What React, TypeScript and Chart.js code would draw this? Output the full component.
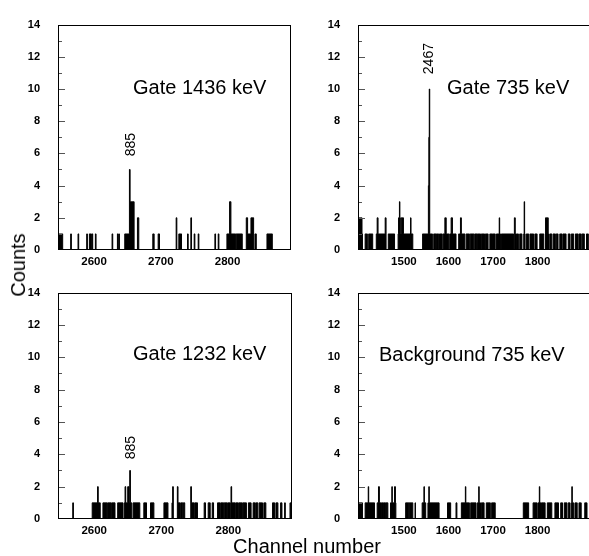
import React, { useEffect, useRef } from 'react';
import { Chart, registerables } from 'chart.js';

Chart.register(...registerables);

type Run = [number, number, number]; // [first channel, last channel, counts]

const countTicks = [0, 2, 4, 6, 8, 10, 12, 14];
const channelTicksHigh = [2600, 2700, 2800];
const channelTicksLow = [1500, 1600, 1700, 1800];
const rangeHigh = [2546, 2895];
const rangeLow = [1397, 1920];

const gateLabels = ['Gate 1436 keV', 'Gate 735 keV', 'Gate 1232 keV', 'Background 735 keV'];
const peakLabels = ['885', '2467', '885', ''];

const gate1436Runs: Run[] = [
  [2546, 2552, 1], [2565, 2565, 1], [2576, 2576, 1], [2589, 2589, 1], [2593, 2595, 1],
  [2597, 2597, 1], [2602, 2602, 1], [2627, 2627, 1], [2635, 2635, 1], [2637, 2637, 1],
  [2646, 2652, 1], [2653, 2653, 5], [2654, 2659, 3], [2665, 2666, 2], [2688, 2689, 1],
  [2696, 2697, 1], [2723, 2723, 2], [2727, 2730, 1], [2740, 2740, 1], [2745, 2745, 2],
  [2750, 2750, 1], [2756, 2756, 1], [2781, 2781, 1], [2786, 2786, 1], [2799, 2811, 1],
  [2803, 2804, 3], [2813, 2821, 1], [2828, 2829, 2], [2830, 2834, 1], [2835, 2838, 2],
  [2841, 2842, 1], [2859, 2866, 1],
];

const gate735Runs: Run[] = [
  [1397, 1405, 2], [1406, 1406, 1], [1413, 1417, 1], [1421, 1429, 1], [1438, 1457, 1],
  [1440, 1441, 2], [1458, 1459, 2], [1465, 1478, 1], [1487, 1513, 1], [1488, 1489, 2],
  [1490, 1490, 3], [1491, 1491, 2], [1494, 1498, 2], [1515, 1515, 2], [1516, 1519, 1],
  [1542, 1554, 1], [1555, 1555, 4], [1556, 1556, 7], [1557, 1557, 10], [1558, 1563, 1],
  [1567, 1571, 1], [1573, 1577, 1], [1580, 1585, 1], [1588, 1591, 1], [1592, 1594, 2],
  [1595, 1600, 1], [1603, 1605, 1], [1606, 1608, 2], [1609, 1616, 1], [1623, 1626, 1],
  [1627, 1628, 2], [1629, 1636, 1], [1640, 1646, 1], [1649, 1656, 1], [1659, 1663, 1],
  [1665, 1671, 1], [1674, 1680, 1], [1683, 1688, 1], [1693, 1697, 1], [1699, 1704, 1],
  [1708, 1712, 1], [1713, 1716, 1], [1714, 1714, 2], [1719, 1745, 1], [1748, 1751, 1],
  [1748, 1749, 2], [1753, 1756, 1], [1760, 1764, 1], [1769, 1771, 1], [1770, 1770, 3],
  [1775, 1779, 1], [1783, 1790, 1], [1794, 1798, 1], [1805, 1813, 1], [1818, 1825, 1],
  [1818, 1823, 2], [1828, 1831, 1], [1835, 1839, 1], [1842, 1845, 1], [1850, 1854, 1],
  [1857, 1863, 1], [1869, 1872, 1], [1876, 1880, 1], [1885, 1890, 1], [1893, 1897, 1],
  [1900, 1904, 1], [1910, 1913, 1],
];

const gate1232Runs: Run[] = [
  [2568, 2568, 1], [2597, 2604, 1], [2605, 2605, 2], [2606, 2608, 1], [2613, 2618, 1],
  [2620, 2624, 1], [2626, 2630, 1], [2635, 2642, 1], [2645, 2649, 1], [2646, 2646, 2],
  [2650, 2651, 2], [2652, 2652, 1], [2653, 2653, 3], [2654, 2655, 1], [2658, 2667, 1],
  [2674, 2677, 1], [2684, 2688, 1], [2704, 2709, 1], [2716, 2716, 1], [2717, 2717, 2],
  [2724, 2724, 2], [2725, 2727, 1], [2729, 2731, 1], [2733, 2734, 1], [2744, 2744, 2],
  [2745, 2748, 1], [2750, 2753, 1], [2764, 2765, 1], [2770, 2772, 1], [2776, 2777, 1],
  [2784, 2787, 1], [2789, 2792, 1], [2794, 2797, 1], [2799, 2802, 1], [2804, 2804, 2],
  [2805, 2809, 1], [2811, 2814, 1], [2816, 2820, 1], [2822, 2826, 1], [2830, 2833, 1],
  [2837, 2839, 1], [2841, 2843, 1], [2846, 2850, 1], [2853, 2855, 1], [2866, 2868, 1],
  [2871, 2873, 1], [2878, 2879, 1], [2884, 2884, 1], [2892, 2892, 1],
];

const background735Runs: Run[] = [
  [1397, 1406, 1], [1413, 1433, 1], [1420, 1420, 2], [1440, 1448, 1], [1443, 1444, 2],
  [1450, 1453, 1], [1455, 1458, 1], [1460, 1463, 1], [1470, 1481, 1], [1473, 1473, 2],
  [1479, 1480, 2], [1504, 1510, 1], [1512, 1519, 1], [1525, 1525, 1], [1541, 1548, 1],
  [1545, 1545, 2], [1554, 1578, 1], [1556, 1556, 2], [1598, 1604, 1], [1617, 1618, 1],
  [1629, 1646, 1], [1638, 1638, 2], [1650, 1661, 1], [1665, 1671, 1], [1668, 1668, 2],
  [1674, 1679, 1], [1685, 1693, 1], [1697, 1704, 1], [1768, 1779, 1], [1790, 1798, 1],
  [1801, 1808, 1], [1804, 1804, 2], [1810, 1816, 1], [1822, 1831, 1], [1839, 1846, 1],
  [1852, 1855, 1], [1860, 1865, 1], [1869, 1872, 1], [1876, 1880, 1], [1877, 1877, 2],
  [1884, 1888, 1], [1893, 1897, 1], [1906, 1910, 1],
];

const FONT = '"Liberation Sans", Arial, Helvetica, sans-serif';

function buildHistogram(runs: Run[], min: number, max: number) {
  const counts: number[] = new Array(max - min + 1).fill(0);
  for (const [a, b, n] of runs) {
    for (let c = a; c <= b; c++) {
      if (c >= min && c <= max) counts[c - min] = n;
    }
  }
  const pts = counts.map((y, i) => ({ x: min + i, y }));
  pts.push({ x: max + 1, y: 0 });
  return pts;
}

interface PanelProps {
  left: number;
  top: number;
  width: number;
  height: number;
  runs: Run[];
  range: number[];
  xTicks: number[];
  label: string;
  labelDx: number;
  labelDy: number;
  peak: string;
  peakDx: number;
  peakDy: number;
}

function Panel(p: PanelProps) {
  const ref = useRef<HTMLCanvasElement | null>(null);
  const cw = Math.round(p.width + 68);
  const ch = Math.round(p.height + 40);
  useEffect(() => {
    if (!ref.current) return;
    const decor = {
      id: 'panelDecor',
      afterDatasetsDraw(chart: any) {
        const { ctx, chartArea: a, scales } = chart;
        const y = scales.y;
        ctx.save();
        ctx.lineWidth = 1;
        ctx.strokeStyle = '#555';
        for (let v = 1; v < 14; v++) {
          const py = Math.round(y.getPixelForValue(v)) + 0.5;
          const len = v % 2 === 0 ? 7 : 4;
          ctx.beginPath();
          ctx.moveTo(a.left, py);
          ctx.lineTo(a.left + len, py);
          ctx.stroke();
        }
        ctx.strokeStyle = '#000';
        const l = Math.round(a.left) + 0.5;
        const t = Math.round(a.top) + 0.5;
        const r = Math.round(a.right) - 0.5;
        const b = Math.round(a.bottom) - 0.5;
        ctx.strokeRect(l, t, r - l, b - t);
        ctx.fillStyle = '#000';
        ctx.font = `20px ${FONT}`;
        ctx.textAlign = 'left';
        ctx.textBaseline = 'alphabetic';
        ctx.fillText(p.label, a.left + p.labelDx, a.top + p.labelDy);
        if (p.peak) {
          ctx.translate(a.left + p.peakDx, a.top + p.peakDy);
          ctx.rotate(-Math.PI / 2);
          ctx.font = `14px ${FONT}`;
          ctx.textAlign = 'center';
          ctx.textBaseline = 'middle';
          ctx.fillText(p.peak, 0, 0);
        }
        ctx.restore();
      },
    };
    const tickFont = { family: FONT, size: 11, weight: 'bold' as const };
    const chart = new Chart(ref.current, {
      type: 'line',
      data: {
        datasets: [
          {
            data: buildHistogram(p.runs, p.range[0], p.range[1]),
            borderColor: '#000',
            backgroundColor: '#000',
            borderWidth: 1,
            fill: 'origin',
            stepped: true,
            pointRadius: 0,
            tension: 0,
          },
        ],
      },
      options: {
        animation: false,
        responsive: false,
        events: [],
        layout: { padding: { left: 8, top: 15, right: 10, bottom: 0 } },
        plugins: { legend: { display: false }, tooltip: { enabled: false } },
        scales: {
          x: {
            type: 'linear',
            min: p.range[0],
            max: p.range[1],
            afterBuildTicks: (s: any) => {
              s.ticks = p.xTicks.map((v) => ({ value: v }));
            },
            afterFit: (s: any) => {
              s.height = 25;
            },
            grid: { display: false, drawTicks: false },
            border: { display: false },
            ticks: {
              padding: 5,
              color: '#000',
              font: { ...tickFont, size: 11.5 },
              maxRotation: 0,
              autoSkip: false,
              callback: (v: any) => String(v),
            },
          },
          y: {
            min: 0,
            max: 14,
            afterBuildTicks: (s: any) => {
              s.ticks = countTicks.map((v) => ({ value: v }));
            },
            afterFit: (s: any) => {
              s.width = 50;
            },
            grid: { display: false, drawTicks: false },
            border: { display: false },
            ticks: {
              padding: 18,
              color: '#000',
              font: tickFont,
              autoSkip: false,
              callback: (v: any) => String(v),
            },
          },
        },
      },
      plugins: [decor],
    } as any);
    return () => chart.destroy();
  }, []);
  return (
    <canvas
      ref={ref}
      width={cw}
      height={ch}
      style={{ position: 'absolute', left: p.left - 58, top: p.top - 15, width: cw, height: ch }}
    />
  );
}

export default function App() {
  return (
    <div
      style={{
        position: 'absolute',
        left: 0,
        top: 0,
        width: 589,
        height: 556,
        overflow: 'hidden',
        background: '#fff',
      }}
    >
      <Panel left={58} top={15} width={233} height={235} runs={gate1436Runs} range={rangeHigh}
        xTicks={channelTicksHigh} label={gateLabels[0]} labelDx={75} labelDy={69}
        peak={peakLabels[0]} peakDx={73} peakDy={120} />
      <Panel left={358} top={15} width={233} height={235} runs={gate735Runs} range={rangeLow}
        xTicks={channelTicksLow} label={gateLabels[1]} labelDx={89} labelDy={69}
        peak={peakLabels[1]} peakDx={71} peakDy={34} />
      <Panel left={58} top={283} width={233.5} height={235.5} runs={gate1232Runs} range={rangeHigh}
        xTicks={channelTicksHigh} label={gateLabels[2]} labelDx={75} labelDy={67}
        peak={peakLabels[2]} peakDx={73} peakDy={155} />
      <Panel left={358} top={283} width={233} height={236} runs={background735Runs} range={rangeLow}
        xTicks={channelTicksLow} label={gateLabels[3]} labelDx={21} labelDy={68}
        peak={peakLabels[3]} peakDx={0} peakDy={0} />
      <div
        style={{
          position: 'absolute',
          left: 17.5,
          top: 265,
          transform: 'translate(-50%, -50%) rotate(-90deg)',
          font: `20px ${FONT}`,
          lineHeight: '20px',
          whiteSpace: 'nowrap',
          color: '#000',
        }}
      >
        Counts
      </div>
      <div
        style={{
          position: 'absolute',
          left: 307,
          top: 536,
          transform: 'translateX(-50%)',
          font: `20px ${FONT}`,
          lineHeight: '20px',
          whiteSpace: 'nowrap',
          color: '#000',
        }}
      >
        Channel number
      </div>
    </div>
  );
}
